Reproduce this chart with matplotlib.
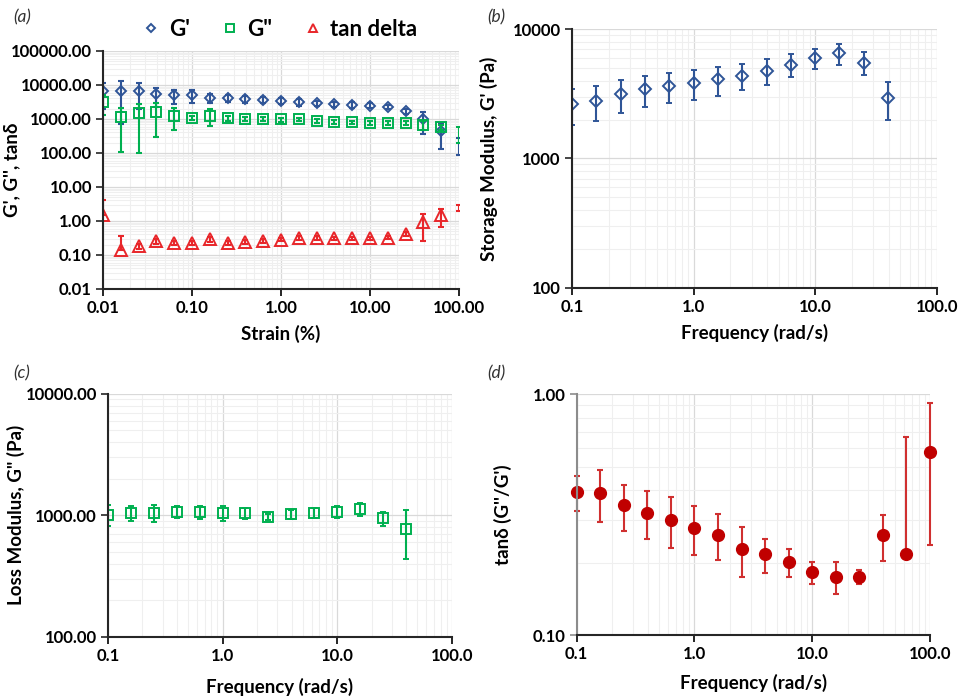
import numpy as np
import matplotlib
matplotlib.use('Agg')
import matplotlib.pyplot as plt
from matplotlib.ticker import FixedLocator, FuncFormatter, LogLocator, NullFormatter

plt.rcParams['font.family'] = ['Lato', 'DejaVu Sans']

# strain sweep (a)
strain = [0.01, 0.0158, 0.0251, 0.0398, 0.0631, 0.1, 0.158, 0.251, 0.398, 0.631,
          1.0, 1.58, 2.51, 3.98, 6.31, 10.0, 15.8, 25.1, 39.8, 63.1, 100.0]
g1_strain = [6800, 6700, 6700, 5250, 4900, 4900, 4070, 4070, 3900, 3650,
             3400, 3100, 2900, 2700, 2600, 2450, 2300, 1700, 1000, 450, 180]
g1_strain_err = [4800, 6000, 4700, 3000, 2200, 2000, 1200, 1000, 900, 800,
                 700, 650, 550, 500, 450, 400, 350, 300, 630, 320, 95]
g2_strain = [3200, 1110, 1450, 1600, 1260, 1060, 1260, 1040, 1010, 990,
             970, 970, 890, 810, 790, 780, 760, 760, 680, 580, 400]
g2_strain_err = [1900, 1000, 1350, 1300, 800, 150, 650, 150, 140, 130,
                 130, 120, 110, 110, 100, 100, 100, 100, 200, 100, 200]
tan_strain = [1.5, 0.136, 0.178, 0.257, 0.22, 0.22, 0.29, 0.23, 0.245, 0.26,
              0.28, 0.32, 0.32, 0.31, 0.31, 0.31, 0.32, 0.42, 0.95, 1.48, 2.4]
tan_strain_err = [2.7, 0.23, 0.03, 0.04, 0.03, 0.03, 0.05, 0.03, 0.03, 0.03,
                  0.03, 0.04, 0.04, 0.03, 0.03, 0.03, 0.03, 0.05, 0.7, 0.8, 0.5]

# frequency sweeps (b), (c), (d)
freq = [0.1, 0.158, 0.251, 0.398, 0.631, 1.0, 1.58, 2.51, 3.98, 6.31,
        10.0, 15.8, 25.1, 39.8, 63.1, 100.0]
g1_freq = [2620, 2800, 3130, 3420, 3630, 3830, 4090, 4370, 4770, 5310,
           5970, 6490, 5500, 2920]
g1_freq_err = [800, 850, 900, 930, 950, 1000, 1030, 1000, 1060, 1080,
               1100, 1200, 1100, 950]
g2_freq = [1010, 1040, 1050, 1070, 1060, 1050, 1040, 970, 1020, 1050,
           1070, 1120, 940, 770]
g2_freq_err = [200, 150, 170, 130, 130, 150, 110, 50, 90, 100,
               120, 140, 120, 330]
tan_freq = [0.394, 0.391, 0.346, 0.323, 0.302, 0.280, 0.262, 0.228, 0.217, 0.201,
            0.183, 0.175, 0.175, 0.260, 0.217, 0.578]
tan_freq_err = [0.065, 0.095, 0.074, 0.073, 0.072, 0.065, 0.056, 0.053, 0.035, 0.027,
                0.019, 0.026, 0.012, 0.056, 0.446, 0.34]

blue = '#2F5597'
green = '#00B050'
red = '#E8262A'
darkred = '#C00000'


def yerr_log(y, e):
    # on a log axis a bar that goes below zero is not drawn (like Excel)
    y = np.array(y, float)
    e = np.array(e, float)
    lo = np.where(y - e > 0, e, 0.0)
    return [lo, e]


def style_axis(ax, xticks, xfmt, yticks, yfmt, ylim, spine_col='#262626'):
    ax.set_xscale('log')
    ax.set_yscale('log')
    ax.set_xlim(xticks[0], xticks[-1])
    ax.set_ylim(*ylim)
    ax.xaxis.set_major_locator(FixedLocator(xticks))
    ax.yaxis.set_major_locator(FixedLocator(yticks))
    ax.xaxis.set_major_formatter(FuncFormatter(lambda v, p: xfmt % v))
    ax.yaxis.set_major_formatter(FuncFormatter(lambda v, p: yfmt % v))
    ax.xaxis.set_minor_locator(LogLocator(base=10, subs=np.arange(2, 10)))
    ax.yaxis.set_minor_locator(LogLocator(base=10, subs=np.arange(2, 10)))
    ax.xaxis.set_minor_formatter(NullFormatter())
    ax.yaxis.set_minor_formatter(NullFormatter())
    ax.tick_params(which='minor', length=0)
    ax.tick_params(which='major', length=5, width=1.2, direction='out',
                   labelsize=12, pad=3)
    ax.tick_params(axis='y', which='major', color=spine_col)
    for lab in ax.get_xticklabels() + ax.get_yticklabels():
        lab.set_fontweight('bold')
    ax.grid(True, which='major', color='#D9D9D9', lw=0.9)
    ax.grid(True, which='minor', color='#EFEFEF', lw=0.8)
    ax.set_axisbelow(True)
    ax.spines['top'].set_visible(False)
    ax.spines['right'].set_visible(False)
    ax.spines['left'].set_color(spine_col)
    ax.spines['left'].set_linewidth(1.5)
    ax.spines['bottom'].set_color('#262626')
    ax.spines['bottom'].set_linewidth(1.5)


fig = plt.figure(figsize=(9.58, 6.99), dpi=100)

ax1 = fig.add_axes([0.1075, 0.5866, 0.3716, 0.3405])
ax2 = fig.add_axes([0.597, 0.588, 0.381, 0.3705])
ax3 = fig.add_axes([0.1127, 0.0891, 0.359, 0.3476])
ax4 = fig.add_axes([0.602, 0.0911, 0.3688, 0.3448])

# (a) strain sweep
style_axis(ax1, [0.01, 0.1, 1, 10, 100], '%.2f',
           [0.01, 0.1, 1, 10, 100, 1000, 10000, 100000], '%.2f', (0.01, 100000))
n = len(strain) - 1  # last point sits on the edge, only its bars show
series = [(g1_strain, g1_strain_err, 'D', 5.2, blue, "G'"),
          (g2_strain, g2_strain_err, 's', 7.5, green, 'G"'),
          (tan_strain, tan_strain_err, '^', 8, red, 'tan delta')]
for y, e, m, ms, c, lab in series:
    ax1.errorbar(strain, y, yerr=yerr_log(y, e), fmt='none', ecolor=c,
                 elinewidth=1.5, capsize=2, capthick=1.5)
    ax1.plot(strain[:n], y[:n], ls='none', marker=m, ms=ms, mfc='none',
             mec=c, mew=1.4, label=lab)
ax1.set_xlabel('Strain (%)', fontsize=13.5, fontweight='bold', labelpad=6)
ax1.set_ylabel("G', G'', tan\u03b4", fontsize=13.5, fontweight='bold')
ax1.yaxis.set_label_coords(-0.233, 0.5)
leg = ax1.legend(loc='lower center', bbox_to_anchor=(0.5, 1.0), ncol=3,
                 frameon=False, fontsize=16, markerscale=0.8, handlelength=0.6,
                 handletextpad=0.5, columnspacing=1.5, borderaxespad=0.1)
for t in leg.get_texts():
    t.set_fontweight('bold')

# (b) storage modulus
nb = len(g1_freq)
style_axis(ax2, [0.1, 1, 10, 100], '%.1f', [100, 1000, 10000], '%d', (100, 10000))
ax2.errorbar(freq[:nb], g1_freq, yerr=yerr_log(g1_freq, g1_freq_err), fmt='D',
             ms=6.5, mfc='none', mec=blue, mew=1.4, ecolor=blue,
             elinewidth=1.5, capsize=2, capthick=1.5)
ax2.set_xlabel('Frequency (rad/s)', fontsize=13.5, fontweight='bold', labelpad=6)
ax2.set_ylabel("Storage Modulus, G' (Pa)", fontsize=13.5, fontweight='bold')
ax2.yaxis.set_label_coords(-0.203, 0.5)

# (c) loss modulus
nc = len(g2_freq)
style_axis(ax3, [0.1, 1, 10, 100], '%.1f', [100, 1000, 10000], '%.2f', (100, 10000))
ax3.errorbar(freq[:nc], g2_freq, yerr=yerr_log(g2_freq, g2_freq_err), fmt='s',
             ms=7.5, mfc='none', mec=green, mew=1.4, ecolor=green,
             elinewidth=1.5, capsize=2, capthick=1.5)
ax3.set_xlabel('Frequency (rad/s)', fontsize=13.5, fontweight='bold', labelpad=10)
ax3.set_ylabel('Loss Modulus, G" (Pa)', fontsize=13.5, fontweight='bold')
ax3.yaxis.set_label_coords(-0.241, 0.5)

# (d) tan delta
style_axis(ax4, [0.1, 1, 10, 100], '%.1f', [0.1, 1.0], '%.2f', (0.1, 1.0),
           spine_col='#8C8C8C')
ax4.errorbar(freq, tan_freq, yerr=yerr_log(tan_freq, tan_freq_err), fmt='o',
             ms=8.5, color=darkred, ecolor='#D03030', elinewidth=1.5,
             capsize=2, capthick=1.5, clip_on=False)
ax4.set_xlabel('Frequency (rad/s)', fontsize=13.5, fontweight='bold', labelpad=8)
ax4.set_ylabel("tan\u03b4 (G''/G')", fontsize=13.5, fontweight='bold')
ax4.yaxis.set_label_coords(-0.183, 0.5)

# panel letters
for x, y, s in [(13, 17, 'a'), (487, 17, 'b'), (13, 373, 'c'), (487, 373, 'd')]:
    fig.text(x / 958, 1 - y / 699, '(' + s + ')', fontsize=12.5, style='italic',
             va='center', ha='left', color='#333333')

fig.savefig('out.png', dpi=100)
